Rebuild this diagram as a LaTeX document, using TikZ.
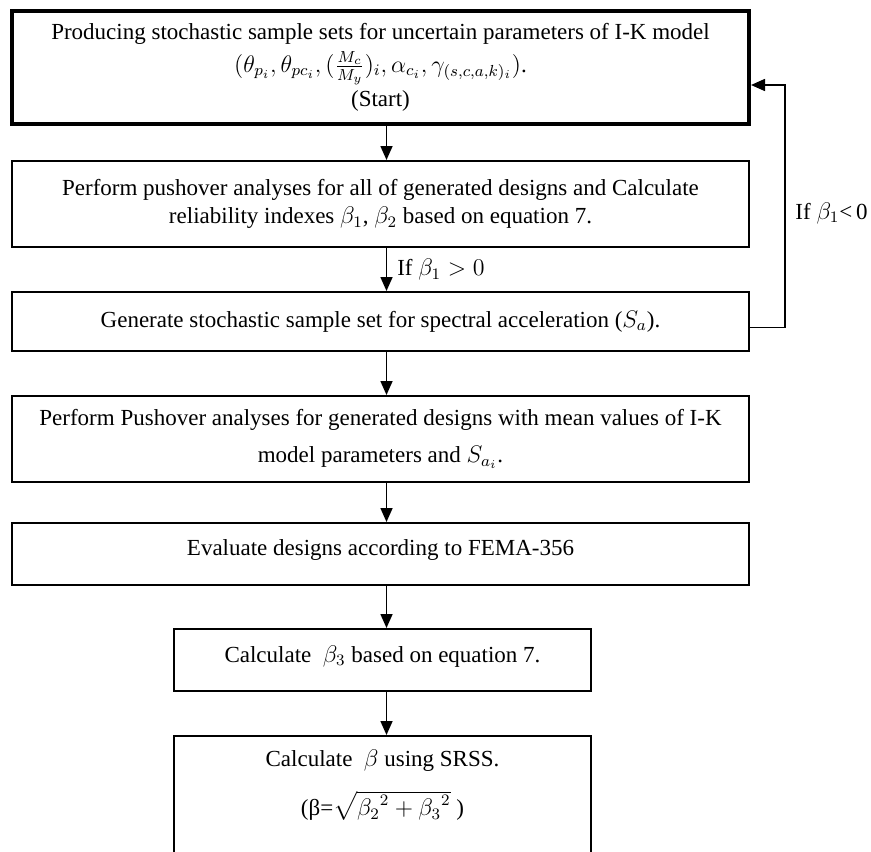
\documentclass[tikz,border=0pt]{standalone}
\usepackage{fontspec}
\setmainfont{Liberation Serif}
\usepackage{amsmath}
\usetikzlibrary{arrows.meta}

\begin{document}
\begin{tikzpicture}[x=0.5pt, y=-0.5pt,
    stepbox/.style={draw=black, line width=1pt, align=center, inner sep=0pt,
                    font=\fontsize{11.5}{13.5}\selectfont},
    flow/.style={draw=black, line width=0.8pt, -{Triangle[width=6pt,length=7pt]}},
    cond/.style={anchor=west, inner sep=0pt, font=\fontsize{11.5}{13.5}\selectfont}]
  \useasboundingbox (0,0) rectangle (871,851);

  % main chain of steps
  \node[stepbox, line width=2pt, minimum width=368.5pt, minimum height=56.5pt]
    (start) at (380.5,67.5) {%
      Producing stochastic sample sets for uncertain parameters of I-K model\\[3pt]
      $(\theta_{p_i}, \theta_{pc_i}, (\frac{M_c}{M_y})_i, \alpha_{c_i}, \gamma_{(s,c,a,k)_i})$.\\[2pt]
      (Start)};
  \node[stepbox, minimum width=368.5pt, minimum height=43pt]
    (push) at (380.5,204) {%
      Perform pushover analyses for all of generated designs and Calculate\\[0.5pt]
      reliability indexes $\beta_1$, $\beta_2$ based on equation 7.};
  \node[stepbox, minimum width=368.5pt, minimum height=29.5pt]
    (sa) at (380.5,321.5) {Generate stochastic sample set for spectral acceleration ($S_a$).};
  \node[stepbox, minimum width=368.5pt, minimum height=43pt]
    (mean) at (380.5,439) {%
      Perform Pushover analyses for generated designs with mean values of I-K\\[5pt]
      model parameters and $S_{a_i}$.};
  \node[stepbox, minimum width=368.5pt, minimum height=31pt]
    (fema) at (380.5,554) {Evaluate designs according to FEMA-356\rule[-6pt]{0pt}{0pt}};
  \node[stepbox, minimum width=208.5pt, minimum height=31pt]
    (beta3) at (382.5,660) {Calculate~ $\beta_3$ based on equation 7.\rule[-6pt]{0pt}{0pt}};
  \node[stepbox, minimum width=208.5pt, anchor=north]
    (srss) at (382.5,735) {%
      \rule{0pt}{15pt}Calculate~ $\beta$ using SRSS.\\[9pt]
      (β=$\sqrt{{\beta_2}^2+{\beta_3}^2}$ )\rule[-45pt]{0pt}{0pt}};

  % connectors
  \draw[flow] ([xshift=3pt]start.south) -- ([xshift=3pt]push.north);
  \draw[flow] ([xshift=3pt]push.south) -- ([xshift=3pt]sa.north)
    node[cond, pos=0.5, xshift=5pt] (yes) {If $\beta_1 > 0$};
  \draw[flow] ([xshift=3pt]sa.south) -- ([xshift=3pt]mean.north);
  \draw[flow] ([xshift=3pt]mean.south) -- ([xshift=3pt]fema.north);
  \draw[flow] ([xshift=2pt]beta3.north |- fema.south) -- ([xshift=2pt]beta3.north);
  \draw[flow] ([xshift=2pt]beta3.south) -- ([xshift=2pt]srss.north);

  % loop back when beta_1 is negative
  \coordinate (turn) at (785,85);
  \draw[flow] ([yshift=-3pt]sa.east) -| (turn) -- (start.east |- turn);
  \node[cond, anchor=east] (no) at (868,213) {If $\beta_1$<\,0};
\end{tikzpicture}
\end{document}
